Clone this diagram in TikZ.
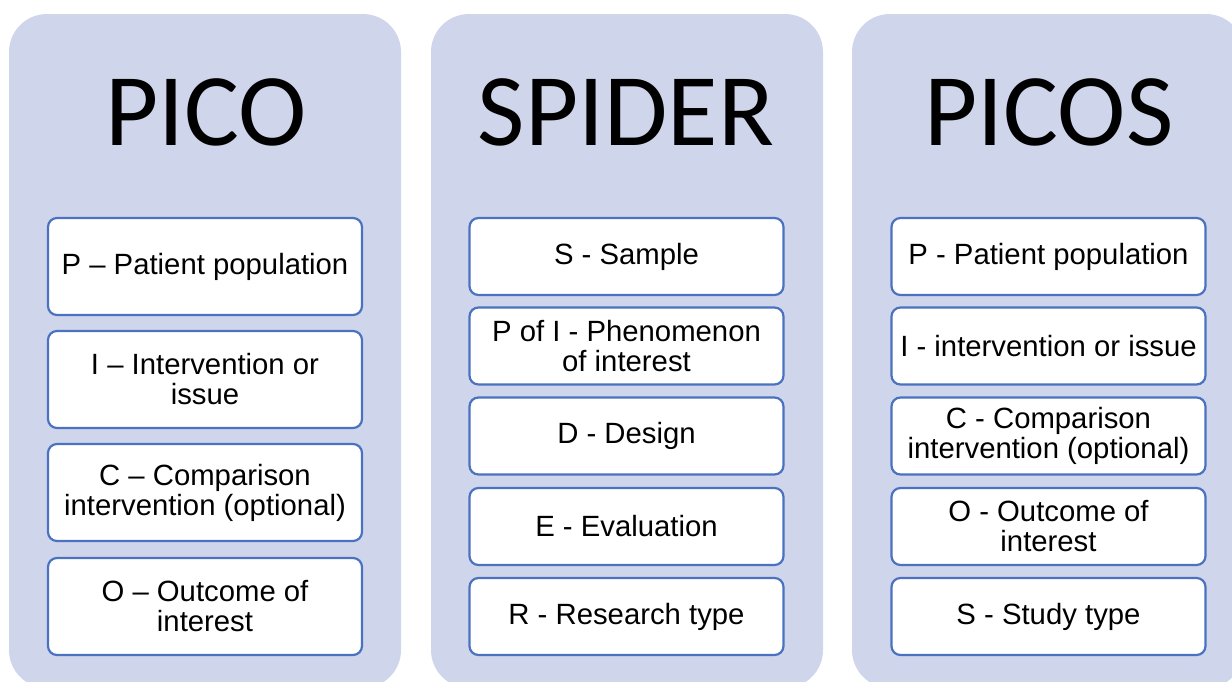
\documentclass[tikz,border=0pt]{standalone}
\usepackage{fontspec}
\setmainfont{Liberation Sans}
\newfontfamily\titlefont{Carlito}
\definecolor{panelfill}{HTML}{CFD5EA}
\definecolor{boxline}{HTML}{4A72C0}
\begin{document}
\begin{tikzpicture}[x=1pt,y=-1pt,
  panel/.style={fill=panelfill,draw=none,rounded corners=38pt},
  title/.style={anchor=base,inner sep=0pt,font=\titlefont\fontsize{103}{110}\selectfont},
  item/.style={draw=boxline,line width=2.2pt,fill=white,rounded corners=9pt,
     align=center,inner sep=2pt,minimum width=314pt,
     font=\fontsize{29.3}{30}\selectfont},
  tall/.style={item,minimum height=97pt},
  short/.style={item,minimum height=77pt}]
\useasboundingbox (0,0) rectangle (1232,681);
\clip (0,0) rectangle (1232,681);
% panels
\path[panel] (9,14) rectangle (401,688);
\path[panel] (431,14) rectangle (823,688);
\path[panel] (852,14) rectangle (1244,688);
% titles
\node[title] (t1) at (206,145) {PICO};
\node[title] (t2) at (626,145) {SPIDER};
\node[title] (t3) at (1049,145) {PICOS};
% PICO
\node[tall] (p1) at (205,266.5) {P – Patient population};
\node[tall] (p2) at (205,379.5) {I – Intervention or\\issue};
\node[tall] (p3) at (205,492.5) {C – Comparison\\intervention (optional)};
\node[tall] (p4) at (205,606.5) {O – Outcome of\\interest};
% SPIDER
\node[short] (s1) at (626.5,256.5) {S - Sample};
\node[short] (s2) at (626.5,346) {P of I - Phenomenon\\of interest};
\node[short] (s3) at (626.5,436) {D - Design};
\node[short] (s4) at (626.5,526.5) {E - Evaluation};
\node[short] (s5) at (626.5,616.5) {R - Research type};
% PICOS
\node[short] (q1) at (1048.5,256.5) {P - Patient population};
\node[short] (q2) at (1048.5,346) {I - intervention or issue};
\node[short] (q3) at (1048.5,436) {C - Comparison\\intervention (optional)};
\node[short] (q4) at (1048.5,526.5) {O - Outcome of\\interest};
\node[short] (q5) at (1048.5,616.5) {S - Study type};
\end{tikzpicture}
\end{document}
